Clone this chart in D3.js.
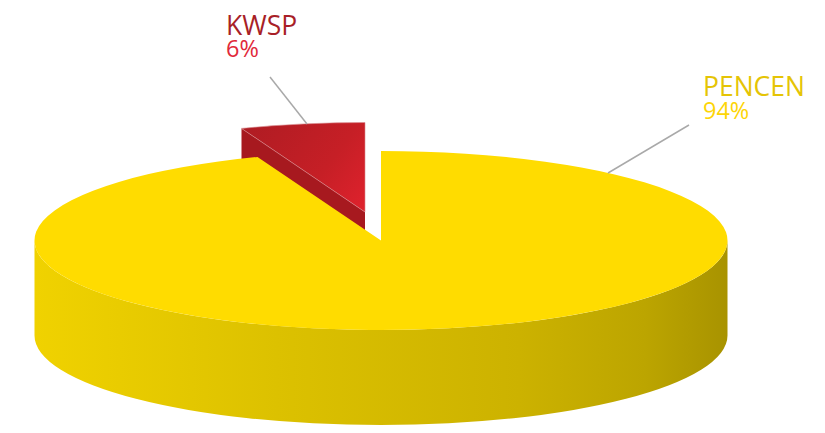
<!DOCTYPE html>
<html>
<head>
<meta charset="utf-8">
<script src="https://cdn.jsdelivr.net/npm/d3@7/dist/d3.min.js"></script>
<style>
html,body{margin:0;padding:0;background:#fff;overflow:hidden}
text{font-family:"Open Sans","Noto Sans",sans-serif}
</style>
</head>
<body>
<div id="chart"></div>
<script>
const categories = ["PENCEN", "KWSP"];
const shares = [94.2, 5.8];
const nameColors = ["#e5c405", "#a81f27"];
const valueColors = ["#fdd506", "#e1293a"];

const W = 825, H = 433;
const cx = 381, cy = 240.5, rx = 346.5, ry = 89.5, depth = 95;
const explode = {x: -16, y: -28.5};

const svg = d3.select("#chart").append("svg").attr("width", W).attr("height", H).style("display", "block");
const defs = svg.append("defs");

const wallGrad = defs.append("linearGradient").attr("id", "wall")
  .attr("gradientUnits", "userSpaceOnUse").attr("x1", cx - rx).attr("x2", cx + rx).attr("y1", 0).attr("y2", 0);
[[0, "#f0d200"], [0.35, "#dcc100"], [0.7, "#ccb200"], [0.88, "#bca500"], [1, "#a89300"]]
  .forEach(s => wallGrad.append("stop").attr("offset", s[0]).attr("stop-color", s[1]));

const redGrad = defs.append("linearGradient").attr("id", "redTop")
  .attr("gradientUnits", "userSpaceOnUse").attr("x1", 250).attr("y1", 125).attr("x2", 365).attr("y2", 212);
[[0, "#b01c23"], [0.6, "#c61f26"], [1, "#e0222d"]]
  .forEach(s => redGrad.append("stop").attr("offset", s[0]).attr("stop-color", s[1]));

const pie = d3.pie().sort(null)(shares);
const pt = (a, ox = 0, oy = 0, dy = 0) => [cx + ox + rx * Math.sin(a), cy + oy + dy + ry * -Math.cos(a)];

function sectorPath(a0, a1, ox = 0, oy = 0) {
  const p0 = pt(a0, ox, oy), p1 = pt(a1, ox, oy);
  const large = (a1 - a0) > Math.PI ? 1 : 0;
  return `M${cx + ox},${cy + oy}L${p0}A${rx},${ry} 0 ${large} 1 ${p1}Z`;
}

// Outer wall of the large slice (front half of the ellipse)
const wl = pt(Math.PI * 1.5), wr = pt(Math.PI * 0.5);
svg.append("path")
  .attr("d", `M${wl}L${wl[0]},${wl[1] + depth}A${rx},${ry} 0 0 0 ${wr[0]},${wr[1] + depth}L${wr}A${rx},${ry} 0 0 1 ${wl}Z`)
  .attr("fill", "url(#wall)");

// Exploded small slice: cut face, then top
const small = pie[1];
const tip = [cx + explode.x, cy + explode.y];
const edgeA = pt(small.startAngle, explode.x, explode.y);
svg.append("path")
  .attr("d", `M${tip}L${edgeA}L${edgeA[0]},${edgeA[1] + depth}L${tip[0]},${tip[1] + depth}Z`)
  .attr("fill", "#a7191f");
svg.append("path")
  .attr("d", sectorPath(small.startAngle, small.endAngle, explode.x, explode.y))
  .attr("fill", "url(#redTop)")
  .attr("stroke", "#d98b8f").attr("stroke-width", 0.6);

// Top of the large slice covers the small slice's lower faces
const big = pie[0];
svg.append("path")
  .attr("d", sectorPath(big.startAngle, big.endAngle))
  .attr("fill", "#ffdc00");

// Leader lines
const leaderLines = [
  {x1: 608, y1: 173, x2: 689, y2: 125},
  {x1: 307, y1: 124, x2: 270, y2: 77}
];
svg.selectAll("line.leader").data(leaderLines).join("line").attr("class", "leader")
  .attr("x1", d => d.x1).attr("y1", d => d.y1).attr("x2", d => d.x2).attr("y2", d => d.y2)
  .attr("stroke", "#a9a9a9").attr("stroke-width", 1.5);

// Labels
const labelAnchors = [{x: 703, y: 96, y2: 119}, {x: 226, y: 35, y2: 57}];
const fmt = v => d3.format(".0f")(v) + "%";
categories.forEach((c, i) => {
  const a = labelAnchors[i];
  svg.append("text").attr("x", a.x).attr("y", a.y).attr("font-size", 26.5)
    .attr("fill", nameColors[i]).text(c);
  svg.append("text").attr("x", a.x).attr("y", a.y2).attr("font-size", 23.5)
    .attr("fill", valueColors[i]).text(fmt(shares[i]));
});
</script>
</body>
</html>
